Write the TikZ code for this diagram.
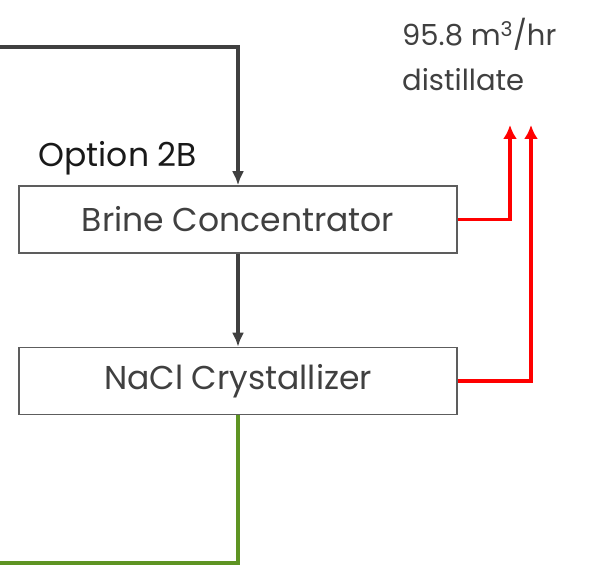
\documentclass[tikz,border=0pt]{standalone}
\usepackage{fontspec}
\setmainfont{Poppins}
\usetikzlibrary{positioning,arrows.meta}
\definecolor{darkline}{HTML}{404040}
\definecolor{flowred}{HTML}{FF0000}
\definecolor{flowgreen}{HTML}{5E9423}

\begin{document}
\begin{tikzpicture}[
    x=1pt, y=-1pt,
    node distance=93pt,
    unit/.style={draw=darkline!85, line width=1.5pt, minimum width=438pt, minimum height=67pt, text=darkline, font=\fontsize{33}{38}\selectfont},
    feed/.style={-{Latex[length=14pt,width=12pt]}, line width=3.5pt, darkline},
    distil/.style={-{Latex[length=14pt,width=14pt]}, line width=3.5pt, flowred},
    salt/.style={line width=4.5pt, flowgreen}
]
\useasboundingbox (0,0) rectangle (590,567);

\node[unit] (brine) at (238,219.5) {Brine Concentrator};
\node[unit, below=of brine] (cryst) {NaCl Crystallizer};
\node[anchor=west, text=black!90, font=\fontsize{33}{38}\selectfont] (option) at (35,158) {Option 2B};
\node[anchor=north west, align=left, inner sep=0pt, text=darkline, font=\fontsize{29}{45}\selectfont] (product) at (402,18) {95.8 m\textsuperscript{3}/hr\\distillate};

\coordinate (feedin) at (0,47);
\coordinate (saltout) at (0,563);
\coordinate (tipa) at (510,125);
\coordinate (tipb) at (531,125);

\draw[feed] (feedin) -| (brine);
\draw[feed] (brine) -- (cryst);
\draw[salt] (cryst.south) |- (saltout);
\draw[distil] (brine.east) -| (tipa);
\draw[distil] (cryst.east) -| (tipb);
\end{tikzpicture}
\end{document}
